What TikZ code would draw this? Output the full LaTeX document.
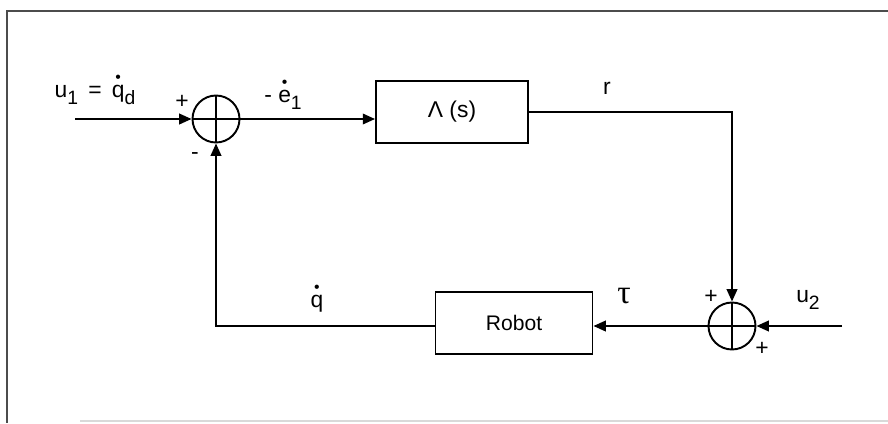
\documentclass[tikz,border=0pt]{standalone}
\usepackage{fontspec}
\setmainfont{Liberation Sans}
\newfontfamily\taufont{Liberation Serif}
\usetikzlibrary{positioning,arrows.meta}

\newcommand{\lowsub}[1]{\raisebox{-0.6ex}{\fontsize{11}{12}\selectfont #1}}
\newcommand{\dotover}[1]{\leavevmode\vbox{\offinterlineskip\halign{\hfil##\hfil\cr
  {\fontsize{9}{9}\selectfont •}\cr\noalign{\kern0.15ex}#1\cr}}}

\tikzset{
  sumnode/.style={draw, circle, minimum size=0.94cm, inner sep=0pt,
    path picture={\draw (path picture bounding box.north) -- (path picture bounding box.south)
      (path picture bounding box.west) -- (path picture bounding box.east);}},
  blockbox/.style={draw, rectangle, minimum height=1.23cm, font=\fontsize{12}{14}\selectfont},
  sig/.style={font=\fontsize{13}{15}\selectfont, inner sep=1pt}
}

\begin{document}
\begin{tikzpicture}[x=0.02cm, y=-0.02cm, line width=1.1pt, >={Triangle[length=7pt, width=6pt]}]
    \useasboundingbox (0,0) rectangle (888,423);

    % Frame
    \draw[line width=1.2pt, black!70] (888,11) -- (7,11) -- (7,423);
    \draw[line width=0.8pt, black!15] (80,421) -- (888,421);

    % Blocks
    \node[sumnode] (S1) at (216,119) {};
    \node[blockbox, minimum width=3.04cm, font=\fontsize{13}{15}\selectfont] (L) at (452,112) {Λ (s)};
    \node[sumnode] (S2) at (732,326) {};
    \node[blockbox, minimum width=3.14cm] (R) at (514,323) {Robot};
    \coordinate (in1) at (75,119);
    \coordinate (in2) at (842,326);

    % Arrows
    \draw[->] (in1) -- (S1.west);
    \draw[->] (S1.east) -- (S1.east -| L.west);
    \draw[->] (L.east) -| (S2.north);
    \draw[->] (in2) -- (S2.east);
    \draw[->] (S2.west) -- (S2.west -| R.east);
    \draw[->] (R.west |- S2) -| (S1.south);

    % Labels
    \node[sig, anchor=base] (u1) at (95,97) {u\lowsub{1} \,=\, \dotover{q}\lowsub{d}};
    \node[sig] (p1) at (182,102) {+};
    \node[sig] (m1) at (195,156) {-};
    \node[sig, anchor=base] (e1) at (283,102) {- \dotover{e}\lowsub{1}};
    \node[sig] (r) at (607,88) {r};
    \node[sig, anchor=base] (qd) at (317,307) {\dotover{q}};
    \node[font=\taufont\fontsize{19}{21}\selectfont] (tau) at (624,296) {τ};
    \node[sig] (p2) at (711,297) {+};
    \node[sig] (p3) at (762,349) {+};
    \node[sig] (u2) at (808,300) {u\lowsub{2}};
\end{tikzpicture}
\end{document}
